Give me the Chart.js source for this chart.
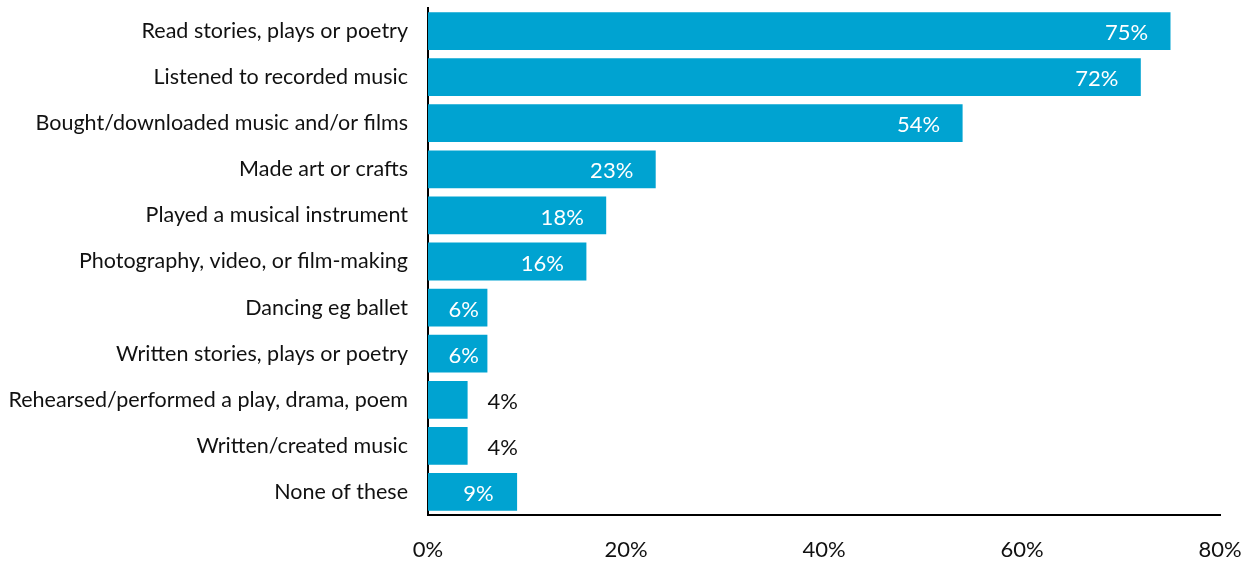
<!DOCTYPE html>
<html>
<head>
<meta charset="utf-8">
<script src="https://cdn.jsdelivr.net/npm/chart.js@4"></script>
<style>
  html, body { margin: 0; padding: 0; background: #fff; }
  #wrap { width: 1247px; height: 562px; position: relative; }
</style>
</head>
<body>
<div id="wrap"><canvas id="grafico"></canvas></div>
<script>
// Atividades culturais e percentual de participação
const atividades = [
    "Read stories, plays or poetry",
    "Listened to recorded music",
    "Bought/downloaded music and/or films",
    "Made art or crafts",
    "Played a musical instrument",
    "Photography, video, or film-making",
    "Dancing eg ballet",
    "Written stories, plays or poetry",
    "Rehearsed/performed a play, drama, poem",
    "Written/created music",
    "None of these"
];
const percentuais = [75, 72, 54, 23, 18, 16, 6, 6, 4, 4, 9];
const ticksX = [0, 20, 40, 60, 80];

const FONTE = "Lato, 'Open Sans', sans-serif";

// rótulos de valor: dentro da barra (branco) ou fora quando a barra é curta
const rotulosValor = {
    id: 'rotulosValor',
    afterDatasetsDraw(chart) {
        const ctx = chart.ctx;
        const meta = chart.getDatasetMeta(0);
        ctx.save();
        ctx.font = `22px ${FONTE}`;
        ctx.textBaseline = 'middle';
        meta.data.forEach((bar, i) => {
            const v = percentuais[i];
            const txt = v + '%';
            const y = bar.y + 2;
            if (v < 5) {
                ctx.fillStyle = '#111';
                ctx.textAlign = 'left';
                ctx.fillText(txt, bar.x + 20, y);
            } else {
                ctx.fillStyle = '#fff';
                ctx.textAlign = 'center';
                const cx = Math.max(bar.x - 44, (bar.base + bar.x) / 2 + 6);
                ctx.fillText(txt, cx, y);
            }
        });
        ctx.restore();
    }
};

new Chart(document.getElementById('grafico'), {
    type: 'bar',
    data: {
        labels: atividades,
        datasets: [{
            data: percentuais,
            backgroundColor: '#00a3d1',
            borderWidth: 0,
            categoryPercentage: 1,
            barPercentage: 0.82
        }]
    },
    options: {
        indexAxis: 'y',
        responsive: true,
        maintainAspectRatio: false,
        animation: false,
        layout: { autoPadding: false, padding: { top: 8, right: 27, left: 0, bottom: 0 } },
        plugins: { legend: { display: false }, tooltip: { enabled: false } },
        scales: {
            x: {
                min: 0,
                max: 80,
                afterBuildTicks: (s) => { s.ticks = ticksX.map(v => ({ value: v })); },
                afterFit: (s) => {
                    s.height = 47;
                    s.paddingLeft = 0;
                    s.paddingRight = 0;
                },
                grid: { display: false, drawTicks: false },
                border: { display: true, color: '#000', width: 2 },
                ticks: {
                    padding: 22,
                    color: '#111',
                    font: { family: FONTE, size: 22 },
                    maxRotation: 0,
                    callback: (v) => v + '%'
                }
            },
            y: {
                afterFit: (s) => {
                    s.width = 428;
                    s.paddingTop = 0;
                    s.paddingBottom = 0;
                },
                grid: { display: false, drawTicks: false },
                border: { display: true, color: '#000', width: 2 },
                ticks: {
                    padding: 20,
                    color: '#111',
                    font: { family: FONTE, size: 21.5 }
                }
            }
        }
    },
    plugins: [rotulosValor]
});
</script>
</body>
</html>
